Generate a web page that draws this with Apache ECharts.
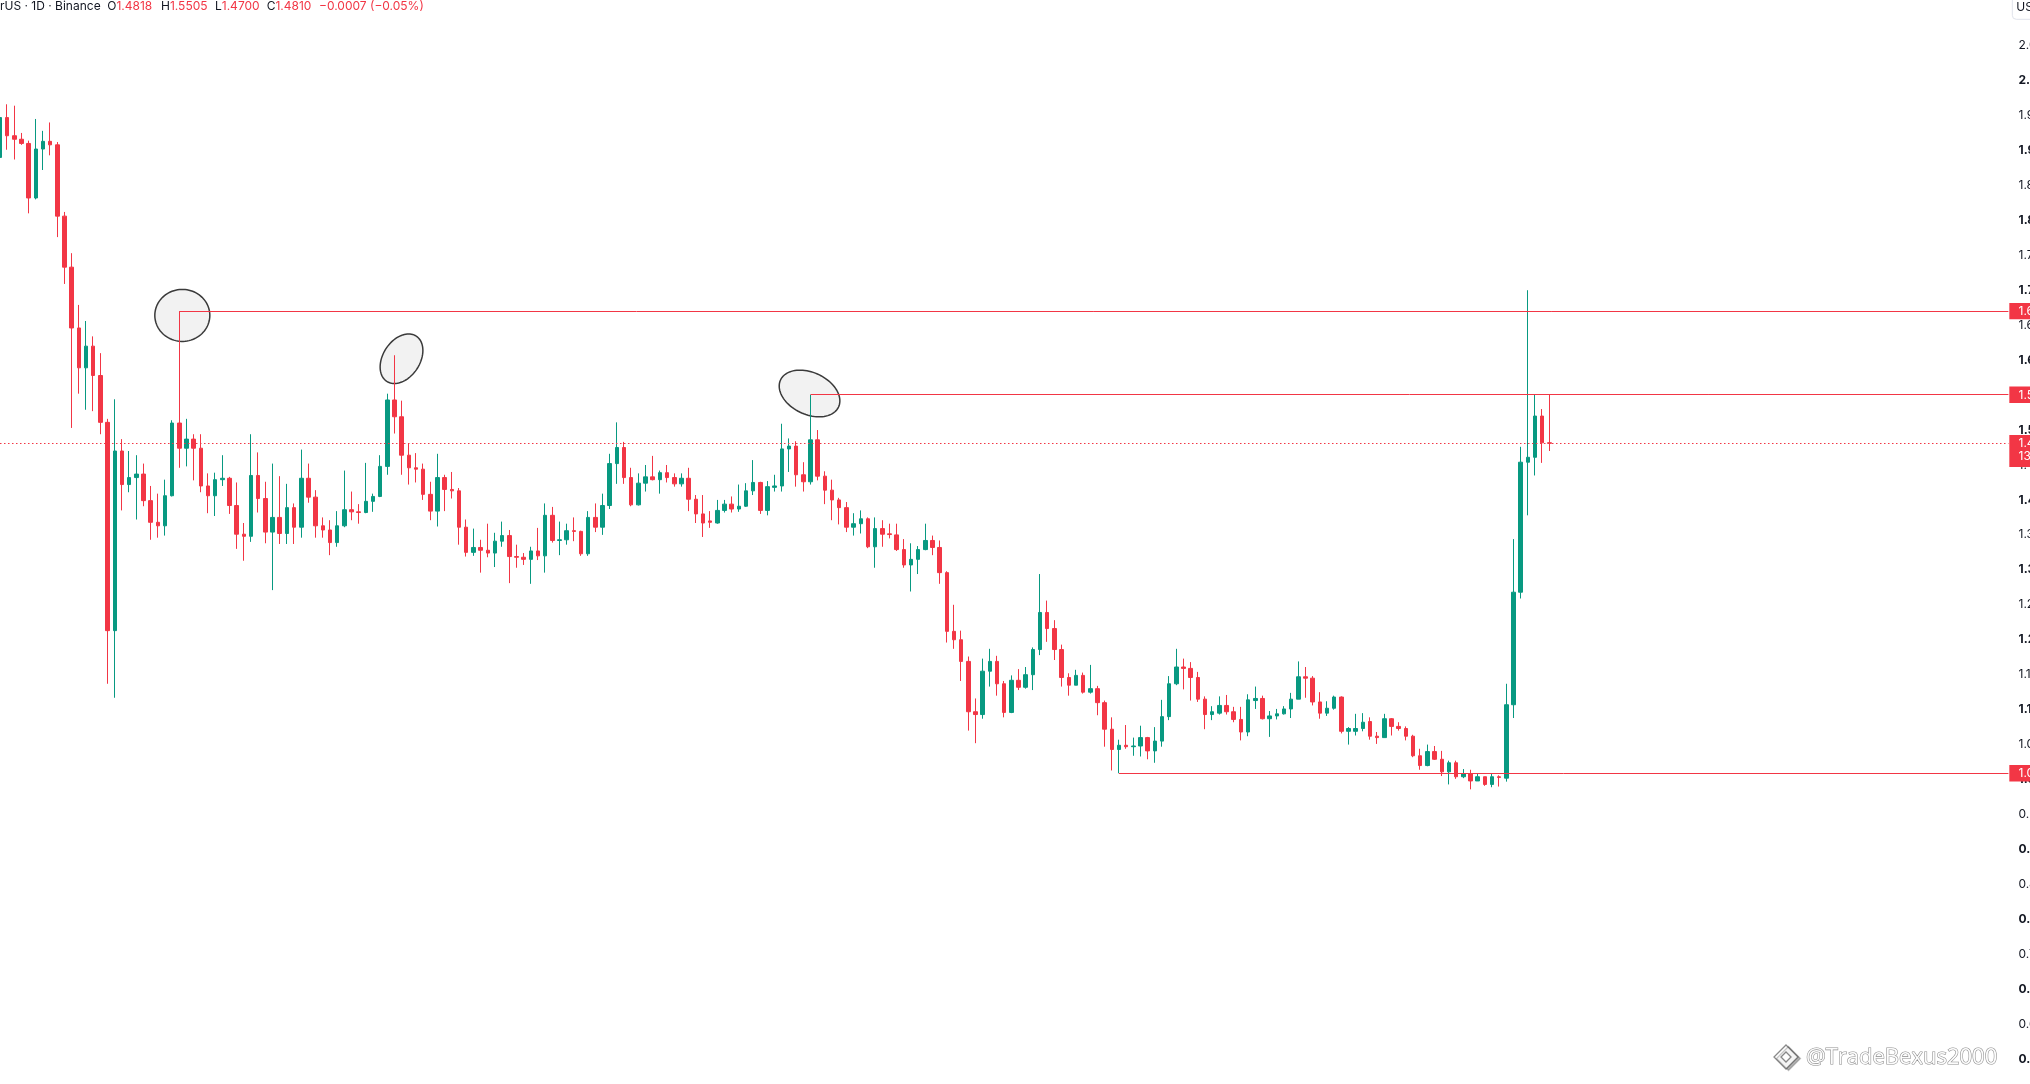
<!DOCTYPE html>
<html>
<head>
<meta charset="utf-8">
<title>Chart</title>
<script src="https://cdn.jsdelivr.net/npm/echarts@6/dist/echarts.min.js"></script>
<style>
html,body{margin:0;padding:0;background:#ffffff;overflow:hidden;}
#c{width:2030px;height:1084px;}
</style>
</head>
<body>
<div id="c"></div>
<script>
// ---- Data (daily candles) ----
const opens = [
1.890,1.947,1.921,1.916,1.910,1.832,1.902,1.913,1.908,1.806,
1.733,1.646,1.589,1.620,1.578,1.511,1.213,1.470,1.422,1.432,
1.437,1.399,1.368,1.363,1.406,1.510,1.474,1.487,1.474,1.420,
1.406,1.429,1.431,1.392,1.351,1.348,1.435,1.402,1.354,1.375,
1.352,1.389,1.361,1.431,1.404,1.363,1.357,1.339,1.363,1.386,
1.383,1.382,1.398,1.405,1.448,1.543,1.519,1.464,1.446,1.444,
1.408,1.384,1.432,1.415,1.413,1.361,1.325,1.332,1.328,1.324,
1.341,1.349,1.319,1.318,1.315,1.327,1.320,1.378,1.342,1.343,
1.356,1.355,1.323,1.375,1.361,1.392,1.452,1.475,1.432,1.393,
1.424,1.433,1.429,1.439,1.432,1.423,1.431,1.401,1.380,1.370,
1.367,1.385,1.394,1.387,1.391,1.413,1.425,1.385,1.418,1.420,
1.473,1.477,1.436,1.426,1.486,1.434,1.414,1.400,1.389,1.361,
1.366,1.373,1.333,1.359,1.3515,1.350,1.329,1.307,1.315,1.329,
1.342,1.332,1.296,1.212,1.200,1.169,1.097,1.093,1.155,1.169,
1.137,1.096,1.142,1.132,1.150,1.186,1.239,1.216,1.186,1.146,
1.135,1.149,1.125,1.130,1.110,1.072,1.043,1.049,1.047,1.048,
1.060,1.041,1.055,1.090,1.137,1.161,1.159,1.146,1.115,1.093,
1.095,1.106,1.097,1.086,1.068,1.113,1.116,1.087,1.091,1.094,
1.101,1.115,1.147,1.145,1.111,1.095,1.102,1.118,1.069,1.069,
1.073,1.083,1.062,1.060,1.087,1.076,1.073,1.062,1.034,1.020,
1.040,1.029,1.011,1.024,1.004,1.008,0.998,1.004,0.993,1.004,
1.002,1.107,1.268,1.454,1.461,1.520,1.4818
];
const highs = [
1.954,1.966,1.964,1.925,1.914,1.945,1.928,1.940,1.912,1.812,
1.753,1.679,1.656,1.634,1.610,1.516,1.544,1.487,1.470,1.464,
1.452,1.420,1.409,1.429,1.514,1.670,1.516,1.494,1.494,1.438,
1.439,1.464,1.433,1.425,1.367,1.494,1.468,1.426,1.452,1.434,
1.423,1.395,1.472,1.452,1.414,1.375,1.371,1.384,1.442,1.412,
1.394,1.453,1.409,1.464,1.552,1.607,1.542,1.481,1.467,1.452,
1.426,1.466,1.436,1.440,1.417,1.372,1.359,1.343,1.366,1.353,
1.369,1.357,1.336,1.324,1.333,1.360,1.395,1.390,1.369,1.366,
1.375,1.356,1.384,1.395,1.409,1.466,1.511,1.483,1.446,1.438,
1.450,1.463,1.442,1.450,1.438,1.438,1.446,1.407,1.407,1.384,
1.400,1.400,1.405,1.422,1.424,1.457,1.426,1.427,1.436,1.509,
1.488,1.484,1.454,1.5505,1.500,1.441,1.429,1.403,1.397,1.381,
1.385,1.375,1.375,1.371,1.366,1.366,1.344,1.338,1.334,1.366,
1.349,1.342,1.298,1.250,1.213,1.176,1.116,1.173,1.187,1.177,
1.141,1.149,1.158,1.161,1.189,1.294,1.256,1.228,1.193,1.152,
1.157,1.153,1.164,1.134,1.113,1.089,1.057,1.078,1.060,1.077,
1.061,1.075,1.114,1.148,1.187,1.173,1.168,1.154,1.119,1.105,
1.119,1.121,1.104,1.104,1.122,1.133,1.120,1.098,1.101,1.105,
1.124,1.169,1.161,1.148,1.125,1.112,1.120,1.119,1.075,1.094,
1.095,1.089,1.068,1.094,1.088,1.082,1.076,1.064,1.044,1.050,
1.048,1.041,1.027,1.027,1.015,1.014,1.008,1.004,1.008,1.006,
1.137,1.344,1.476,1.700,1.5505,1.530,1.5505
];
const lows = [
1.885,1.901,1.887,1.908,1.810,1.830,1.872,1.893,1.776,1.709,
1.503,1.552,1.529,1.527,1.494,1.137,1.117,1.385,1.411,1.372,
1.391,1.343,1.346,1.349,1.405,1.446,1.448,1.428,1.411,1.381,
1.377,1.420,1.380,1.330,1.313,1.340,1.382,1.338,1.271,1.337,
1.337,1.337,1.346,1.396,1.346,1.346,1.321,1.333,1.361,1.371,
1.366,1.381,1.383,1.404,1.436,1.495,1.436,1.422,1.425,1.400,
1.371,1.362,1.384,1.402,1.336,1.319,1.320,1.296,1.318,1.304,
1.333,1.281,1.303,1.307,1.280,1.314,1.296,1.339,1.321,1.336,
1.341,1.320,1.320,1.354,1.350,1.387,1.423,1.423,1.391,1.392,
1.412,1.428,1.409,1.425,1.419,1.419,1.384,1.367,1.347,1.360,
1.366,1.382,1.382,1.383,1.390,1.407,1.380,1.378,1.412,1.412,
1.440,1.419,1.412,1.422,1.428,1.394,1.371,1.365,1.354,1.349,
1.352,1.331,1.303,1.333,1.345,1.327,1.303,1.269,1.294,1.328,
1.321,1.280,1.196,1.187,1.141,1.070,1.052,1.087,1.133,1.120,
1.089,1.095,1.128,1.130,1.128,1.178,1.197,1.171,1.133,1.120,
1.135,1.123,1.123,1.092,1.047,1.013,1.009,1.044,1.034,1.033,
1.029,1.024,1.047,1.085,1.135,1.129,1.113,1.111,1.072,1.085,
1.093,1.093,1.082,1.056,1.062,1.101,1.086,1.061,1.086,1.093,
1.088,1.115,1.117,1.106,1.087,1.091,1.100,1.066,1.050,1.063,
1.069,1.057,1.051,1.060,1.063,1.070,1.056,1.032,1.014,1.019,
1.028,1.005,0.993,1.001,1.002,0.986,0.998,0.991,0.989,0.990,
0.997,1.088,1.259,1.378,1.435,1.453,1.4700
];
const closes = [
1.947,1.921,1.916,1.910,1.832,1.902,1.913,1.908,1.806,1.733,
1.646,1.589,1.620,1.578,1.511,1.213,1.470,1.422,1.432,1.437,
1.399,1.368,1.363,1.406,1.510,1.474,1.487,1.474,1.420,1.406,
1.429,1.431,1.392,1.351,1.348,1.435,1.402,1.354,1.375,1.352,
1.389,1.361,1.431,1.404,1.363,1.357,1.339,1.363,1.386,1.383,
1.382,1.398,1.405,1.448,1.543,1.519,1.464,1.446,1.444,1.408,
1.384,1.432,1.415,1.413,1.361,1.325,1.332,1.328,1.324,1.341,
1.349,1.319,1.318,1.315,1.327,1.320,1.378,1.342,1.343,1.356,
1.355,1.323,1.375,1.361,1.392,1.452,1.475,1.432,1.393,1.424,
1.433,1.429,1.439,1.432,1.423,1.431,1.401,1.380,1.367,1.368,
1.385,1.394,1.387,1.391,1.413,1.425,1.385,1.419,1.420,1.473,
1.477,1.436,1.426,1.486,1.434,1.414,1.400,1.389,1.361,1.366,
1.373,1.333,1.359,1.351,1.3505,1.329,1.307,1.315,1.329,1.342,
1.332,1.296,1.212,1.200,1.169,1.097,1.093,1.155,1.169,1.137,
1.096,1.142,1.132,1.150,1.186,1.239,1.216,1.186,1.146,1.135,
1.149,1.125,1.130,1.110,1.072,1.043,1.049,1.047,1.048,1.060,
1.041,1.055,1.090,1.137,1.161,1.159,1.146,1.115,1.093,1.097,
1.106,1.097,1.086,1.068,1.114,1.116,1.087,1.091,1.094,1.101,
1.115,1.147,1.145,1.111,1.095,1.102,1.118,1.069,1.073,1.073,
1.082,1.062,1.060,1.087,1.076,1.073,1.062,1.034,1.020,1.040,
1.029,1.011,1.024,1.004,1.008,0.998,1.004,0.993,1.004,1.003,
1.107,1.268,1.454,1.461,1.520,1.4817,1.4810
];
const SLOTS = 281; // visible day slots (data + empty space on the right)
const categories = Array.from({length: SLOTS}, (_, i) => String(i));

// horizontal levels drawn on the chart: start candle index and price
const levelStart = [25, 113, 156];
const levelPrice = [1.670, 1.5505, 1.009];
const lastPrice = 1.4810;
const countdown = '13:05:42';

// ellipse annotations: anchor candle, price of centre, pixel offset, semi-axes (px), rotation (deg)
const ellipseAt = [25, 55, 113];
const ellipsePrice = [1.664, 1.602, 1.5523];
const ellipseDx = [3, 7, -1];
const ellipseA = [27.5, 27, 32];
const ellipseB = [26, 18.5, 21];
const ellipseRot = [0, 57, -25];

// header legend
const symbolText = 'rUS · 1D · Binance';
const headerKeys = ['O', 'H', 'L', 'C'];

// ---- Styles ----
const UP = '#089981', DOWN = '#F23645', TXT = '#131722';
const FONT = 'Inter, "Noto Sans", "DejaVu Sans", sans-serif';
const FS = 12;

const chart = echarts.init(document.getElementById('c'), null, {renderer: 'canvas', width: 2030, height: 1084});
const candleData = opens.map((o, i) => [o, closes[i], lows[i], highs[i]]);
const lastIdx = opens.length - 1;

const lines = levelStart.map((s, k) => [
  {coord: [categories[s], levelPrice[k]], lineStyle: {color: DOWN, width: 1, type: 'solid'}},
  {coord: [categories[SLOTS - 1], levelPrice[k]]}
]);
lines.push([
  {coord: [categories[0], lastPrice], lineStyle: {color: DOWN, width: 1.1, type: [1.5, 2.5]}},
  {coord: [categories[SLOTS - 1], lastPrice]}
]);

chart.setOption({
  animation: false,
  backgroundColor: '#ffffff',
  grid: {left: -3.59, top: 0, width: 2015.6, height: 1094.1, containLabel: false, outerBoundsMode: 'none'},
  xAxis: {type: 'category', data: categories, boundaryGap: true, show: false},
  yAxis: {
    type: 'value', position: 'right', min: 0.55, max: 2.1152, interval: 0.05,
    axisLine: {show: false}, axisTick: {show: false}, splitLine: {show: false},
    axisLabel: {
      margin: 6.5,
      formatter: function (v) {
        if (v > 2.07) return '';
        const bold = Math.round(v * 100) % 10 === 0;
        return (bold ? '{b|' : '{n|') + v.toFixed(4) + '}';
      },
      rich: {
        b: {fontFamily: FONT, fontSize: FS, fontWeight: 'bold', color: TXT},
        n: {fontFamily: FONT, fontSize: FS, fontWeight: 'normal', color: TXT}
      }
    }
  },
  series: [{
    type: 'candlestick',
    data: candleData,
    barWidth: 4,
    itemStyle: {color: UP, color0: DOWN, borderColor: UP, borderColor0: DOWN, borderWidth: 1},
    markLine: {
      symbol: ['none', 'none'], silent: true, animation: false,
      label: {show: false}, emphasis: {disabled: true},
      data: lines
    }
  }]
});

// ---- Annotations positioned through the chart's own coordinate system ----
function toPx(i, p) { return chart.convertToPixel({gridIndex: 0}, [categories[i], p]); }
function ellipsePts(cx, cy, a, b, rotDeg) {
  const r = rotDeg * Math.PI / 180, pts = [];
  for (let k = 0; k < 90; k++) {
    const t = k / 90 * 2 * Math.PI;
    const ex = a * Math.cos(t), ey = b * Math.sin(t);
    pts.push([cx + ex * Math.cos(r) - ey * Math.sin(r), cy - (ex * Math.sin(r) + ey * Math.cos(r))]);
  }
  return pts;
}
const g = [];
ellipseAt.forEach((idx, k) => {
  const c = toPx(idx, ellipsePrice[k]);
  g.push({type: 'polygon', z: 0, silent: true,
    shape: {points: ellipsePts(c[0] + ellipseDx[k], c[1], ellipseA[k], ellipseB[k], ellipseRot[k])},
    style: {fill: '#f2f2f2', stroke: '#3a3a3a', lineWidth: 1.5}});
});

const axisX = toPx(SLOTS - 1, lastPrice)[0] + 0.9; // right edge of plotting pane
const labelFont = FS + 'px ' + FONT;
levelPrice.forEach((p) => {
  const y = toPx(0, p)[1];
  g.push({type: 'rect', z: 20, silent: true, shape: {x: axisX, y: y - 8.15, width: 40, height: 16.3}, style: {fill: DOWN}});
  g.push({type: 'text', z: 21, silent: true, style: {text: p.toFixed(4), x: axisX + 9.2, y: y + 0.5, fill: '#ffffff', font: labelFont, verticalAlign: 'middle'}});
});
{
  const y = toPx(0, lastPrice)[1];
  g.push({type: 'rect', z: 20, silent: true, shape: {x: axisX, y: y - 8.3, width: 40, height: 32}, style: {fill: DOWN}});
  g.push({type: 'text', z: 21, silent: true, style: {text: lastPrice.toFixed(4), x: axisX + 9.2, y: y, fill: '#ffffff', font: labelFont, verticalAlign: 'middle'}});
  g.push({type: 'text', z: 21, silent: true, style: {text: countdown, x: axisX + 9.2, y: y + 13.5, fill: '#ffffff', font: labelFont, verticalAlign: 'middle'}});
}
// currency unit box
g.push({type: 'rect', z: 20, silent: true, shape: {x: axisX + 3, y: -6, width: 44, height: 25.3, r: 4}, style: {fill: '#ffffff', stroke: '#e0e3eb', lineWidth: 1}});
g.push({type: 'text', z: 21, silent: true, style: {text: 'USDT', x: axisX + 7, y: 7.5, fill: TXT, font: labelFont, verticalAlign: 'middle'}});

// header legend
const headerVals = [opens[lastIdx], highs[lastIdx], lows[lastIdx], closes[lastIdx]];
const headerX = [107.3, 161, 215, 266.7];
g.push({type: 'text', z: 21, silent: true, style: {text: symbolText, x: 0, y: 6.5, fill: TXT, font: labelFont, verticalAlign: 'middle'}});
headerKeys.forEach((k, i) => {
  g.push({type: 'text', z: 21, silent: true, style: {
    text: '{k|' + k + '}{v|' + headerVals[i].toFixed(4) + '}', x: headerX[i], y: 6.5, verticalAlign: 'middle',
    rich: {k: {fill: TXT, font: labelFont}, v: {fill: DOWN, font: labelFont}}}});
});
const chg = closes[lastIdx] - closes[lastIdx - 1];
const pct = chg / closes[lastIdx - 1] * 100;
const fmt = (v, d) => (v < 0 ? '\u2212' : '+') + Math.abs(v).toFixed(d);
g.push({type: 'text', z: 21, silent: true, style: {text: fmt(chg, 4) + ' (' + fmt(pct, 2) + '%)', x: 319, y: 6.5, fill: DOWN, font: labelFont, verticalAlign: 'middle'}});

// watermark
function diamond(cx, cy, r) { return [[cx, cy - r], [cx + r, cy], [cx, cy + r], [cx - r, cy]]; }
const wmStroke = 'rgba(60,60,60,0.6)';
g.push({type: 'polygon', z: 22, silent: true, shape: {points: diamond(1786, 1057, 12)}, style: {fill: 'rgba(255,255,255,0.85)', stroke: wmStroke, lineWidth: 1.3, shadowColor: 'rgba(0,0,0,0.35)', shadowOffsetX: 2.5, shadowOffsetY: 1.5}});
g.push({type: 'polygon', z: 22, silent: true, shape: {points: diamond(1786, 1057, 5)}, style: {fill: 'rgba(255,255,255,0.85)', stroke: wmStroke, lineWidth: 1.3}});
g.push({type: 'text', z: 22, silent: true, style: {text: '@TradeBexus2000', x: 1806, y: 1058, font: '22px "Open Sans", sans-serif', verticalAlign: 'middle',
  fill: 'rgba(255,255,255,0.95)', stroke: wmStroke, lineWidth: 1.1, shadowColor: 'rgba(0,0,0,0.38)', shadowOffsetX: 3, shadowOffsetY: 1.5, shadowBlur: 1}});

chart.setOption({graphic: {elements: g}});
</script>
</body>
</html>
